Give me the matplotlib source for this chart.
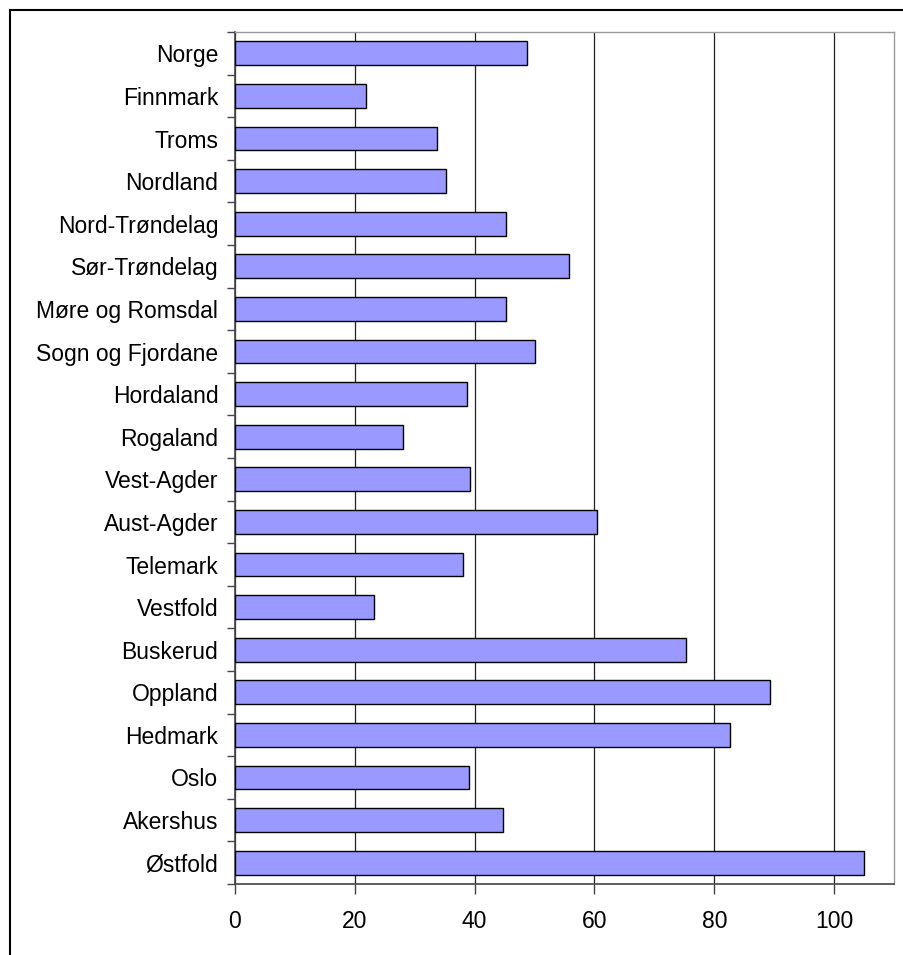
import numpy as np
import matplotlib
matplotlib.use('Agg')
import matplotlib.pyplot as plt
from matplotlib.lines import Line2D

plt.rcParams['font.family'] = ['Liberation Sans', 'DejaVu Sans']

# categories from top to bottom as shown
fylker = ['Norge', 'Finnmark', 'Troms', 'Nordland', 'Nord-Trøndelag', 'Sør-Trøndelag',
          'Møre og Romsdal', 'Sogn og Fjordane', 'Hordaland', 'Rogaland', 'Vest-Agder',
          'Aust-Agder', 'Telemark', 'Vestfold', 'Buskerud', 'Oppland', 'Hedmark',
          'Oslo', 'Akershus', 'Østfold']
verdier = [48.8, 21.8, 33.7, 35.2, 45.2, 55.7, 45.2, 50.0, 38.7, 28.0, 39.3,
           60.5, 38.0, 23.2, 75.3, 89.3, 82.7, 39.0, 44.7, 105.0]
xticks = [0, 20, 40, 60, 80, 100]

W, H = 904, 955
fig = plt.figure(figsize=(W / 100, H / 100), dpi=100)

# outer frame (cut off at right and bottom)
fig.add_artist(Line2D([10 / W, 1.01], [1 - 10 / H, 1 - 10 / H], color='black', lw=1.5,
                      transform=fig.transFigure))
fig.add_artist(Line2D([10 / W, 10 / W], [1 - 10 / H, -0.01], color='black', lw=1.5,
                      transform=fig.transFigure))

ax = fig.add_axes([235 / W, 1 - 884 / H, (894 - 235) / W, (884 - 32) / H])

n = len(fylker)
y = np.arange(n)[::-1]
ax.barh(y, verdier, height=0.56, color='#9999ff', edgecolor='black', linewidth=1, zorder=3)

ax.set_xlim(0, 110)
ax.set_ylim(-0.5, n - 0.5)
ax.set_xticks(xticks)
ax.set_xticklabels([str(t) for t in xticks], fontsize=16.5)
ax.xaxis.grid(True, color='#222222', linewidth=0.9, zorder=0)

ax.set_yticks(y)
ax.set_yticklabels(fylker, fontsize=16.5)
ax.tick_params(axis='y', length=0, pad=12)
ax.set_yticks(np.arange(n + 1) - 0.5, minor=True)
ax.tick_params(axis='y', which='minor', length=6, width=1, color='#444444')
ax.tick_params(axis='x', length=7, width=1, color='#444444', pad=12)

for s in ['top', 'right']:
    ax.spines[s].set_color('#999999')
    ax.spines[s].set_linewidth(1)
for s in ['left', 'bottom']:
    ax.spines[s].set_color('#444444')
    ax.spines[s].set_linewidth(1.2)

fig.savefig('out.png', dpi=100)
